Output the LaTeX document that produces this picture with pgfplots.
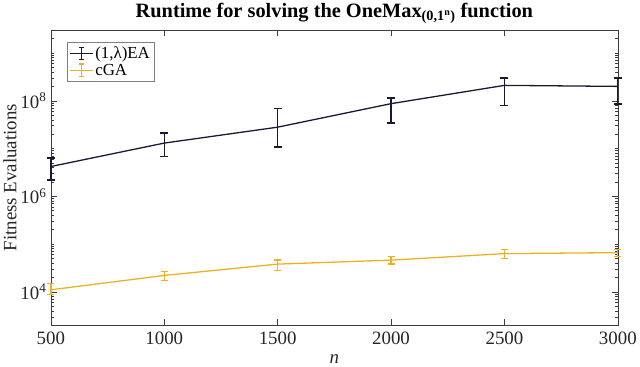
\documentclass[border=0pt]{standalone}
\usepackage{fontspec}
\setmainfont{Liberation Serif}
\usepackage{pgfplots}
\pgfplotsset{compat=1.18}
\definecolor{eacol}{RGB}{25,25,50}
\definecolor{cgacol}{RGB}{237,177,32}
\definecolor{axcol}{RGB}{60,60,60}

% n, mean, +err, -err
\pgfplotstableread{
n    y      ep     em
500  4.2e6  2.1e6  2.0e6
1000 1.3e7  0.8e7  0.63e7
1500 2.8e7  4.0e7  1.73e7
2000 8.7e7  2.8e7  5.3e7
2500 2.1e8  0.9e8  1.31e8
3000 2.0e8  1.0e8  1.15e8
}\eadata
\pgfplotstableread{
n    y      ep     em
500  1.1e4  0.4e4  0.23e4
1000 2.2e4  0.5e4  0.5e4
1500 3.8e4  0.8e4  1.0e4
2000 4.6e4  0.9e4  0.8e4
2500 6.3e4  1.4e4  1.3e4
3000 6.6e4  1.2e4  1.2e4
}\cgadata

\begin{document}
\begin{tikzpicture}
\begin{axis}[
    scale only axis,
    width=569bp, height=296bp,
    ymode=log,
    xmin=500, xmax=3000,
    ymin=2e3, ymax=3e9,
    xtick={500,1000,...,3000},
    ytick={1e4,1e6,1e8},
    yticklabels={10\textsuperscript{4},10\textsuperscript{6},10\textsuperscript{8}},
    minor ytick={2e3,3e3,4e3,5e3,6e3,7e3,8e3,9e3,
                 2e4,3e4,4e4,5e4,6e4,7e4,8e4,9e4,1e5,
                 2e5,3e5,4e5,5e5,6e5,7e5,8e5,9e5,
                 2e6,3e6,4e6,5e6,6e6,7e6,8e6,9e6,1e7,
                 2e7,3e7,4e7,5e7,6e7,7e7,8e7,9e7,
                 2e8,3e8,4e8,5e8,6e8,7e8,8e8,9e8,1e9,2e9},
    /pgf/number format/assume math mode=true,
    /pgf/number format/1000 sep={},
    tick align=inside,
    major tick length=6bp,
    minor tick length=3bp,
    tick style={axcol, line width=0.5pt},
    axis line style={axcol, line width=0.6pt},
    ticklabel style={font=\fontsize{19}{21}\selectfont, text=black!85},
    yticklabel style={xshift=-1bp},
    xticklabel style={yshift=-3bp},
    xlabel={\textit{n}},
    ylabel={Fitness Evaluations},
    label style={font=\fontsize{19}{21}\selectfont, text=black!85},
    xlabel style={yshift=-3bp},
    ylabel style={yshift=-3bp},
    title={\textbf{Runtime for solving the OneMax\textsubscript{(0,1\textsuperscript{n})} function}},
    title style={font=\fontsize{20.5}{22}\selectfont, yshift=-3bp},
    clip=false,
    legend style={at={(0.028,0.96)}, anchor=north west,
        draw=black!50, font=\fontsize{17}{19}\selectfont,
        inner sep=2.5pt, row sep=0pt, cells={anchor=west}},
    legend image code/.code={
        \draw[#1] (0cm,0cm) -- (0.8cm,0cm);
        \draw[#1] (0.4cm,-0.22cm) -- (0.4cm,0.22cm);
        \draw[#1] (0.31cm,0.22cm) -- (0.49cm,0.22cm);
        \draw[#1] (0.31cm,-0.22cm) -- (0.49cm,-0.22cm);
    },
]
\addplot[eacol, line width=1.3pt, mark=none,
    error bars/.cd, y dir=both, y explicit,
    error bar style={line width=1.3pt},
    error mark options={rotate=90, mark size=4bp, line width=1.3pt}]
    table[x=n, y=y, y error plus=ep, y error minus=em] {\eadata};
\addlegendentry{(1,λ)EA}
\addplot[cgacol, line width=1.3pt, mark=none,
    error bars/.cd, y dir=both, y explicit,
    error bar style={line width=1.3pt},
    error mark options={rotate=90, mark size=3.5bp, line width=1.3pt}]
    table[x=n, y=y, y error plus=ep, y error minus=em] {\cgadata};
\addlegendentry{cGA}
\end{axis}
\end{tikzpicture}
\end{document}
